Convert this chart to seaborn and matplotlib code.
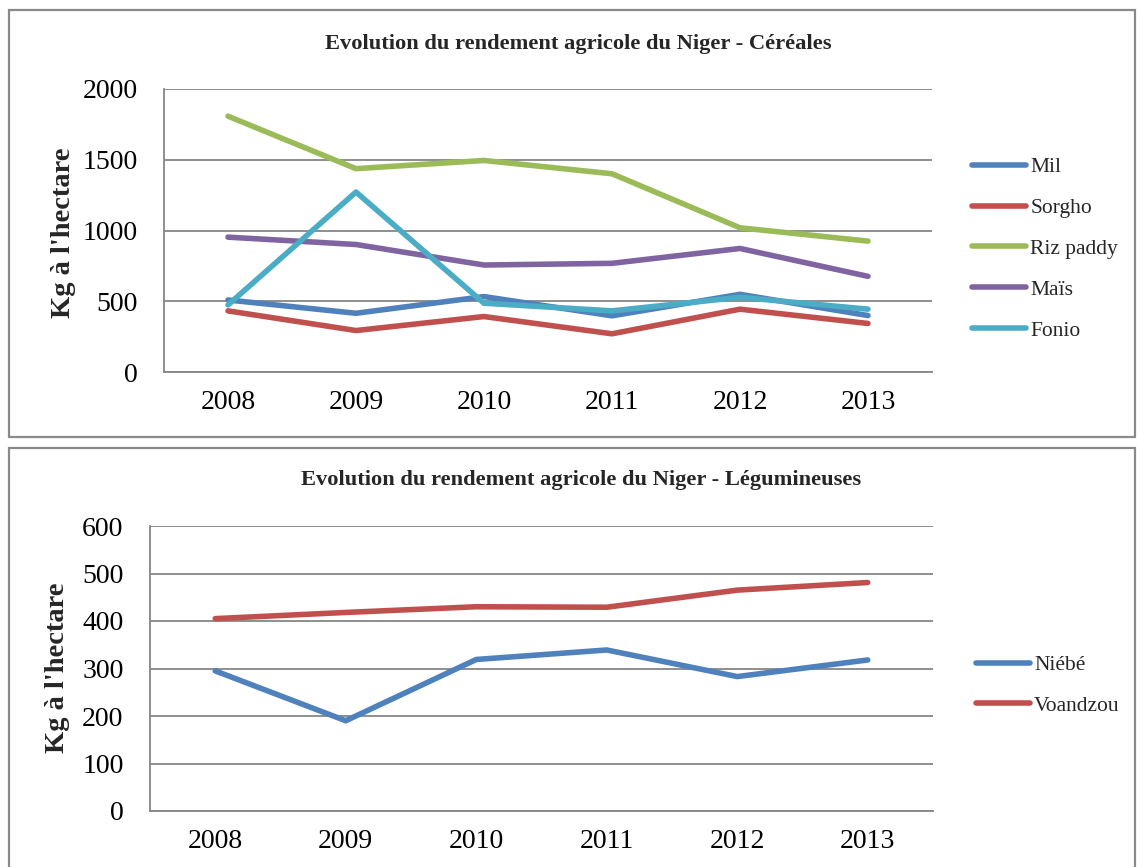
import matplotlib
matplotlib.use("Agg")
import matplotlib.pyplot as plt
from matplotlib.patches import Rectangle
import seaborn as sns
import pandas as pd

# ---- data ----
years = [2008, 2009, 2010, 2011, 2012, 2013]
mil = [509, 415, 533, 397, 549, 399]
sorgho = [432, 293, 392, 270, 444, 343]
riz_paddy = [1808, 1437, 1495, 1401, 1019, 925]
mais = [953, 901, 756, 768, 873, 676]
fonio = [474, 1272, 486, 432, 528, 444]
cereal_names = ["Mil", "Sorgho", "Riz paddy", "Maïs", "Fonio"]

niebe = [295, 190, 319, 339, 283, 318]
voandzou = [405, 418, 430, 429, 465, 481]
legume_names = ["Niébé", "Voandzou"]

title_top = "Evolution du rendement agricole du Niger - Céréales"
title_bottom = "Evolution du rendement agricole du Niger - Légumineuses"
ylabel = "Kg à l'hectare"
yticks_top = [0, 500, 1000, 1500, 2000]
yticks_bottom = [0, 100, 200, 300, 400, 500, 600]

cereal_colors = ["#4F81BD", "#C0504D", "#9BBB59", "#8064A2", "#4BACC6"]
legume_colors = ["#4F81BD", "#C0504D"]

sns.set_style("white")
plt.rcParams["font.family"] = ["Liberation Serif", "DejaVu Serif"]

W, H = 1137, 867
fig = plt.figure(figsize=(W / 100, H / 100), dpi=100)
fig.patch.set_facecolor("white")


def fx(px):
    return px / W


def fy(py):
    return 1 - py / H


GRID = "#868686"
FRAME = "#8a8a8a"

# frames
fig.add_artist(Rectangle((fx(9), fy(437)), fx(1135 - 9), (437 - 10) / H,
                         transform=fig.transFigure, fill=False, ec=FRAME, lw=1.6))
fig.add_artist(Rectangle((fx(9), fy(880)), fx(1135 - 9), (880 - 448) / H,
                         transform=fig.transFigure, fill=False, ec=FRAME, lw=1.6,
                         clip_on=False))


def make_axes(left, right, top, bottom):
    return fig.add_axes([fx(left), fy(bottom), fx(right - left), (bottom - top) / H])


def style(ax, yticks):
    ax.set_xlim(2007.5, 2013.5)
    ax.set_ylim(yticks[0], yticks[-1])
    ax.set_yticks(yticks)
    ax.set_xticks(years)
    ax.set_xticklabels([str(y) for y in years])
    ax.yaxis.grid(True, color=GRID, lw=1.3)
    ax.xaxis.grid(False)
    ax.set_axisbelow(True)
    for s in ["top", "right"]:
        ax.spines[s].set_visible(False)
    for s in ["left", "bottom"]:
        ax.spines[s].set_color(GRID)
        ax.spines[s].set_linewidth(1.3)
    ax.tick_params(axis="both", length=0, labelsize=20, colors="black")
    ax.tick_params(axis="y", pad=19)
    ax.tick_params(axis="x", pad=13)
    ax.set_xlabel("")
    ax.set_ylabel("")


LEG_FS = 15.5
LEG_SP = 0.97
LW = 4.0

# ---- top chart ----
df_c = pd.DataFrame({
    "Année": years * 5,
    "Rendement": mil + sorgho + riz_paddy + mais + fonio,
    "Culture": sum([[n] * len(years) for n in cereal_names], []),
})
ax1 = make_axes(164, 932, 89, 372)
sns.lineplot(data=df_c, x="Année", y="Rendement", hue="Culture",
             hue_order=cereal_names, palette=cereal_colors, lw=LW,
             ax=ax1, legend=True, solid_capstyle="round", solid_joinstyle="round")
style(ax1, yticks_top)
h, l = ax1.get_legend_handles_labels()
ax1.get_legend().remove()
for hh in h:
    hh.set_linewidth(LW)
    hh.set_solid_capstyle("round")
fig.legend(h, l, loc="center left", bbox_to_anchor=(fx(972), fy(249)),
           frameon=False, fontsize=LEG_FS, handlelength=2.5, handletextpad=0.2,
           labelspacing=LEG_SP, borderaxespad=0, borderpad=0)
fig.text(fx(578), fy(44), title_top, ha="center", va="center",
         fontsize=16.2, fontweight="bold")
fig.text(fx(63), fy(233), ylabel, ha="center", va="center", rotation=90,
         fontsize=20.5, fontweight="bold")

# ---- bottom chart ----
df_l = pd.DataFrame({
    "Année": years * 2,
    "Rendement": niebe + voandzou,
    "Culture": sum([[n] * len(years) for n in legume_names], []),
})
ax2 = make_axes(150, 933, 526, 811)
sns.lineplot(data=df_l, x="Année", y="Rendement", hue="Culture",
             hue_order=legume_names, palette=legume_colors, lw=LW,
             ax=ax2, legend=True, solid_capstyle="round", solid_joinstyle="round")
style(ax2, yticks_bottom)
h, l = ax2.get_legend_handles_labels()
ax2.get_legend().remove()
for hh in h:
    hh.set_linewidth(LW)
    hh.set_solid_capstyle("round")
fig.legend(h, l, loc="center left", bbox_to_anchor=(fx(976), fy(685.5)),
           frameon=False, fontsize=LEG_FS, handlelength=2.5, handletextpad=0.2,
           labelspacing=LEG_SP, borderaxespad=0, borderpad=0)
fig.text(fx(581), fy(480), title_bottom, ha="center", va="center",
         fontsize=16.2, fontweight="bold")
fig.text(fx(58), fy(668), ylabel, ha="center", va="center", rotation=90,
         fontsize=20.5, fontweight="bold")

fig.savefig("out.png", dpi=100, facecolor="white")
